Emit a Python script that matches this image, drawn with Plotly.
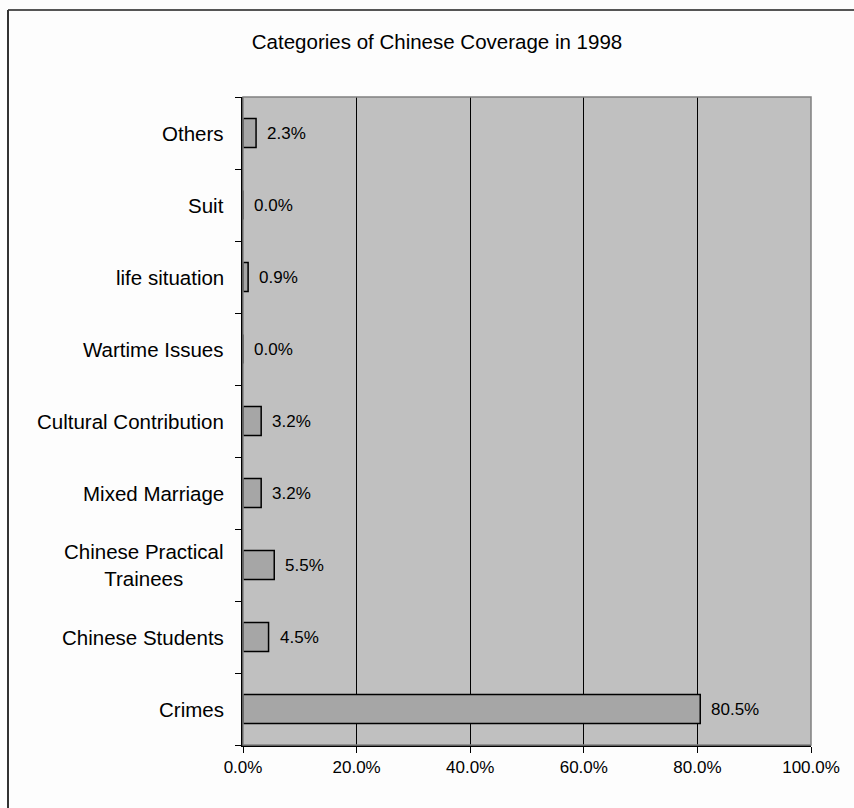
import plotly.graph_objects as go

# Coverage categories, listed bottom to top
categories = [
    "Crimes",
    "Chinese Students",
    "Chinese Practical<br>Trainees",
    "Mixed Marriage",
    "Cultural Contribution",
    "Wartime Issues",
    "life situation",
    "Suit",
    "Others",
]
shares = [80.5, 4.5, 5.5, 3.2, 3.2, 0.0, 0.9, 0.0, 2.3]
x_ticks = [0, 20, 40, 60, 80, 100]
x_tick_labels = ["0.0%", "20.0%", "40.0%", "60.0%", "80.0%", "100.0%"]

FONT = "Liberation Sans, Arial, sans-serif"

fig = go.Figure(
    go.Bar(
        x=shares,
        y=categories,
        orientation="h",
        marker=dict(color="#A6A6A6", line=dict(color="#000000", width=1.5)),
        width=0.4,
        hoverinfo="skip",
    )
)

annotations = []
# value labels to the right of each bar
for cat, val in zip(categories, shares):
    annotations.append(dict(
        x=val, y=cat, xref="x", yref="y",
        text=f"{val:.1f}%", showarrow=False,
        xanchor="left", yanchor="middle", xshift=9,
        font=dict(family=FONT, size=17, color="#000000"),
    ))
# category labels, centred lines for wrapped names
for cat in categories:
    annotations.append(dict(
        x=0, y=cat, xref="paper", yref="y",
        text=cat, showarrow=False, align="center",
        xanchor="right", yanchor="middle", xshift=-17,
        font=dict(family=FONT, size=20.5, color="#000000"),
    ))

shapes = [
    # plot-area frame
    dict(type="rect", xref="paper", yref="paper", x0=0, x1=1, y0=0, y1=1,
         line=dict(color="#808080", width=1.5), layer="above"),
    # outer chart frame (top and left edges)
    dict(type="line", xref="paper", yref="paper", x0=-(243 - 8)/568, x1=(854 - 243)/568 + 0.01,
         y0=(745 - 10)/648, y1=(745 - 10)/648, line=dict(color="#555555", width=2)),
    dict(type="line", xref="paper", yref="paper", x0=-(243 - 8)/568, x1=-(243 - 8)/568,
         y0=(745 - 10)/648, y1=-0.2, line=dict(color="#333333", width=2)),
]

fig.update_layout(
    width=854, height=808,
    margin=dict(l=243, r=43, t=97, b=63),
    paper_bgcolor="#FDFDFD",
    plot_bgcolor="#C0C0C0",
    showlegend=False,
    title=dict(
        text="Categories of Chinese Coverage in 1998",
        x=437/854, xanchor="center", y=1 - 42/808, yanchor="middle",
        font=dict(family=FONT, size=20.5, color="#000000"),
    ),
    annotations=annotations,
    shapes=shapes,
)

fig.update_xaxes(
    range=[0, 100],
    tickvals=x_ticks, ticktext=x_tick_labels,
    showgrid=True, gridcolor="#000000", gridwidth=1,
    zeroline=False,
    showline=True, linecolor="#000000", linewidth=1.5,
    ticks="outside", ticklen=6, tickcolor="#000000",
    tickfont=dict(family=FONT, size=17, color="#000000"),
    fixedrange=True,
)
fig.update_yaxes(
    categoryorder="array", categoryarray=categories,
    showticklabels=False,
    tickson="boundaries",
    ticks="outside", ticklen=6, tickcolor="#000000",
    showgrid=False, zeroline=False,
    showline=True, linecolor="#000000", linewidth=1.5,
    fixedrange=True,
)

fig.write_html("out.html")
